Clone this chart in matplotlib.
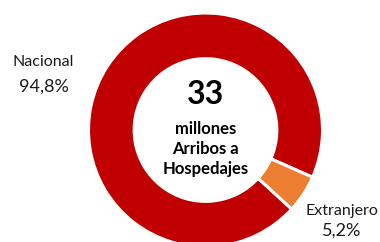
import matplotlib
matplotlib.use("Agg")
import matplotlib.pyplot as plt

categories = ["Nacional", "Extranjero"]
shares = [94.8, 5.2]
share_labels = ["94,8%", "5,2%"]
colors = ["#C00000", "#ED7D31"]
center_value = "33"
center_text = "millones\nArribos a\nHospedajes"

plt.rcParams['font.family'] = ['Lato', 'DejaVu Sans']

W, H = 380, 242
fig = plt.figure(figsize=(W / 100, H / 100), dpi=100)
ax = fig.add_axes([0, 0, 1, 1])

cx, cy = 205.5, H - 130
R = 117
wedges, _ = ax.pie(shares, colors=colors, startangle=-23.8, counterclock=True,
                   radius=R, center=(cx, cy),
                   wedgeprops=dict(width=R * 0.39, edgecolor="white", linewidth=2.2))

ax.set_xlim(0, W)
ax.set_ylim(0, H)
ax.set_aspect("equal")
ax.axis("off")

txt = "#1a1a1a"
ax.text(43.5, H - 62, categories[0], ha="center", va="center", fontsize=11.5, color=txt)
ax.text(43.5, H - 87, share_labels[0], ha="center", va="center", fontsize=13, color=txt)
ax.text(341.5, H - 211, categories[1], ha="center", va="center", fontsize=11.5, color=txt)
ax.text(341.5, H - 231, share_labels[1], ha="center", va="center", fontsize=13, color=txt)

ax.text(cx, H - 95, center_value, ha="center", va="center", fontsize=23, fontweight="bold", color="black")
ax.text(cx, H - 149, center_text, ha="center", va="center", fontsize=12, fontweight="bold",
        color="black", linespacing=1.3)

fig.savefig("out.png", dpi=100)
